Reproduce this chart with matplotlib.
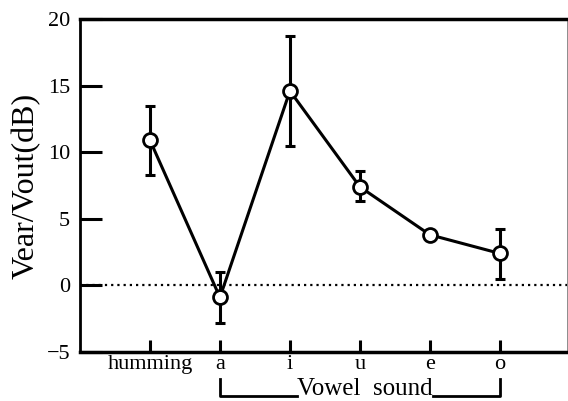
import numpy as np
import matplotlib
matplotlib.use('Agg')
import matplotlib.pyplot as plt
import matplotlib.transforms as mtransforms

plt.rcParams['font.family'] = ['Liberation Serif', 'DejaVu Serif']
plt.rcParams['xtick.direction'] = 'in'
plt.rcParams['ytick.direction'] = 'in'

# data
labels = ['humming', 'a', 'i', 'u', 'e', 'o']
values = [10.9, -0.9, 14.6, 7.4, 3.8, 2.4]
err_low = [8.3, -2.8, 10.5, 6.3, 3.8, 0.5]
err_high = [13.5, 1.0, 18.7, 8.6, 3.8, 4.2]

xpos = np.arange(1, len(labels) + 1)
vals = np.array(values)
yerr = np.vstack([vals - np.array(err_low), np.array(err_high) - vals])

fig = plt.figure(figsize=(5.68, 4.01), dpi=100)
ax = fig.add_axes([80 / 568, 49 / 401, 487 / 568, 333 / 401])

ax.axhline(0, color='black', linestyle=(0, (1, 1.8)), linewidth=1.6, zorder=1)
ax.errorbar(xpos, vals, yerr=yerr, fmt='none', ecolor='black',
            elinewidth=2.2, capsize=3.5, capthick=2.2, zorder=2)
ax.plot(xpos, vals, '-o', color='black', linewidth=2.2, markersize=10,
        markerfacecolor='white', markeredgewidth=2.0, zorder=3)

ax.set_xlim(0, 6.96)
ax.set_ylim(-5, 20)
ax.set_xticks(xpos)
ax.set_xticklabels(labels, fontsize=16)
ax.set_yticks([-5, 0, 5, 10, 15, 20])
ax.tick_params(axis='y', length=16, width=2.2, labelsize=16, pad=7)
ax.tick_params(axis='x', length=9, width=2.2, labelsize=16, pad=2)

ax.spines['top'].set_linewidth(2.5)
ax.spines['bottom'].set_linewidth(2.5)
ax.spines['left'].set_linewidth(2.0)
ax.spines['right'].set_linewidth(0.7)
ax.spines['right'].set_color('0.55')

ax.set_ylabel('Vear/Vout(dB)', fontsize=23, labelpad=4)

# bracket for vowel sounds below the axis
trans = mtransforms.blended_transform_factory(ax.transData, fig.transFigure)
yb_top = 1 - 379 / 401
yb_bot = 1 - 396 / 401
ax.plot([2, 2, 3.1], [yb_top, yb_bot, yb_bot], color='black', linewidth=2.0,
        transform=trans, clip_on=False)
ax.plot([5.04, 6, 6], [yb_bot, yb_bot, yb_top], color='black', linewidth=2.0,
        transform=trans, clip_on=False)
ax.text(4.07, 6 / 401, 'Vowel  sound', fontsize=18, ha='center', va='baseline',
        transform=trans, clip_on=False)

fig.savefig('out.png', dpi=100)
